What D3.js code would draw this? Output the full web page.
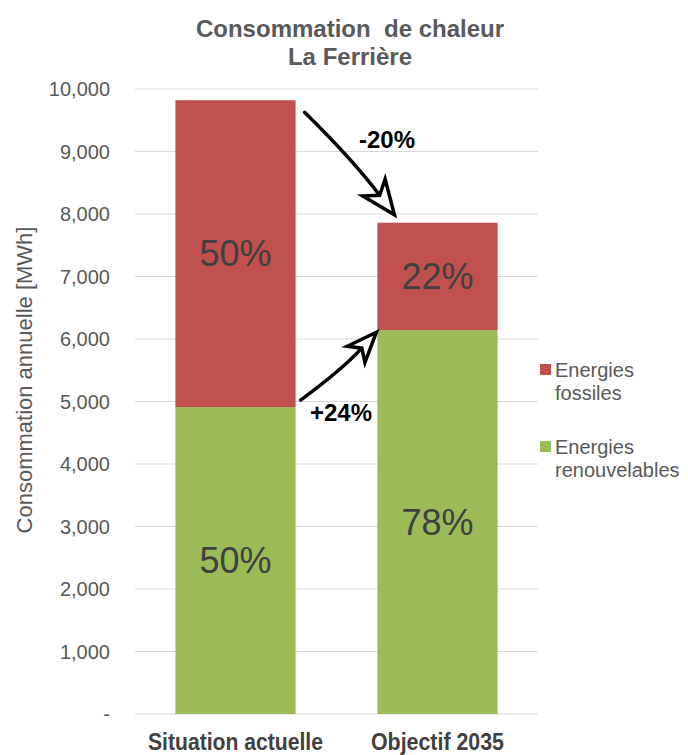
<!DOCTYPE html>
<html>
<head>
<meta charset="utf-8">
<script src="https://cdn.jsdelivr.net/npm/d3@7"></script>
<style>
  body { margin: 0; background: #fff; }
  text { font-family: "Liberation Sans", Arial, sans-serif; }
</style>
</head>
<body>
<div id="chart"></div>
<script>
// data
const categories = ["Situation actuelle", "Objectif 2035"]
const renouvelables = [4910, 6140]
const fossiles = [4910, 1720]
const pctRenouv = ["50%", "78%"]
const pctFoss = ["50%", "22%"]
const yTicks = [0, 1000, 2000, 3000, 4000, 5000, 6000, 7000, 8000, 9000, 10000]
const seriesNames = [["Energies", "fossiles"], ["Energies", "renouvelables"]]
const colors = ["#C0504D", "#9BBB59"]

const width = 688, height = 755
const margin = { top: 89, left: 135, right: 150, bottom: 41 }

const svg = d3.select("#chart").append("svg")
  .attr("width", width)
  .attr("height", height)

const x = d3.scaleBand()
  .domain(categories)
  .range([margin.left, width - margin.right])
  .paddingInner(0.405)
  .paddingOuter(0.2)

const y = d3.scaleLinear()
  .domain([0, 10000])
  .range([height - margin.bottom, margin.top])

// gridlines
svg.append("g").selectAll("line")
  .data(yTicks)
  .enter().append("line")
  .attr("x1", margin.left)
  .attr("x2", width - margin.right)
  .attr("y1", d => y(d))
  .attr("y2", d => y(d))
  .attr("stroke", "#d9d9d9")
  .attr("stroke-width", 1.2)

// y tick labels
svg.append("g").selectAll("text")
  .data(yTicks)
  .enter().append("text")
  .attr("x", 110)
  .attr("y", d => y(d))
  .attr("dy", "0.35em")
  .attr("text-anchor", "end")
  .attr("font-size", 20)
  .attr("fill", "#595959")
  .text(d => d === 0 ? "-" : d3.format(",")(d))

// y axis title
svg.append("text")
  .attr("transform", "translate(24,380) rotate(-90)")
  .attr("dy", "0.35em")
  .attr("text-anchor", "middle")
  .attr("font-size", 22)
  .attr("fill", "#595959")
  .text("Consommation annuelle [MWh]")

// bars
const bars = svg.append("g")
categories.forEach((c, i) => {
  bars.append("rect")
    .attr("x", x(c))
    .attr("width", x.bandwidth())
    .attr("y", y(renouvelables[i]))
    .attr("height", y(0) - y(renouvelables[i]))
    .attr("fill", colors[1])
  bars.append("rect")
    .attr("x", x(c))
    .attr("width", x.bandwidth())
    .attr("y", y(renouvelables[i] + fossiles[i]))
    .attr("height", y(renouvelables[i]) - y(renouvelables[i] + fossiles[i]))
    .attr("fill", colors[0])

  // percentage labels
  bars.append("text")
    .attr("x", x(c) + x.bandwidth() / 2)
    .attr("y", y(renouvelables[i] / 2))
    .attr("dy", "0.35em")
    .attr("text-anchor", "middle")
    .attr("font-size", 36)
    .attr("fill", "#404040")
    .text(pctRenouv[i])
  bars.append("text")
    .attr("x", x(c) + x.bandwidth() / 2)
    .attr("y", y(renouvelables[i] + fossiles[i] / 2))
    .attr("dy", "0.35em")
    .attr("text-anchor", "middle")
    .attr("font-size", 36)
    .attr("fill", "#404040")
    .text(pctFoss[i])
})

// x labels (narrow bold, squeezed to the reference width)
const labelWidths = [175, 133]
svg.append("g").selectAll("text")
  .data(categories)
  .enter().append("text")
  .attr("x", d => x(d) + x.bandwidth() / 2)
  .attr("y", 750)
  .attr("text-anchor", "middle")
  .attr("font-size", 23)
  .attr("font-weight", "bold")
  .attr("fill", "#404040")
  .attr("textLength", (d, i) => labelWidths[i])
  .attr("lengthAdjust", "spacingAndGlyphs")
  .text(d => d)

// title
svg.append("text")
  .attr("x", 350).attr("y", 37)
  .attr("text-anchor", "middle")
  .attr("font-size", 24).attr("font-weight", "bold")
  .attr("fill", "#595959")
  .attr("xml:space", "preserve")
  .text("Consommation  de chaleur")
svg.append("text")
  .attr("x", 350).attr("y", 65)
  .attr("text-anchor", "middle")
  .attr("font-size", 24).attr("font-weight", "bold")
  .attr("fill", "#595959")
  .text("La Ferrière")

// legend
const legend = svg.append("g")
seriesNames.forEach((lines, i) => {
  const ly = 370 + i * 77
  legend.append("rect")
    .attr("x", 540).attr("y", ly - 6)
    .attr("width", 11).attr("height", 11)
    .attr("fill", colors[i])
  lines.forEach((t, j) => {
    legend.append("text")
      .attr("x", 555).attr("y", ly + j * 23)
      .attr("dy", "0.35em")
      .attr("font-size", 20)
      .attr("fill", "#595959")
      .text(t)
  })
})

// arrows
function arrow(x0, y0, x1, y1, bend, headL, headW) {
  const mx = (x0 + x1) / 2, my = (y0 + y1) / 2
  const dx = x1 - x0, dy = y1 - y0
  const len = Math.sqrt(dx * dx + dy * dy)
  const cx = mx - dy / len * bend, cy = my + dx / len * bend
  const a = Math.atan2(y1 - cy, x1 - cx)
  const ang = a * 180 / Math.PI
  // shaft stops at back of head
  const ex = x1 - Math.cos(a) * headL * 0.72, ey = y1 - Math.sin(a) * headL * 0.72
  svg.append("path")
    .attr("d", "M" + x0 + "," + y0 + " Q" + cx + "," + cy + " " + ex + "," + ey)
    .attr("fill", "none")
    .attr("stroke", "#000")
    .attr("stroke-width", 3.5)
    .attr("stroke-linecap", "round")
  svg.append("path")
    .attr("d", "M0,0 L" + (-headL) + "," + (-headW / 2) + " L" + (-headL * 0.72) + ",0 L" + (-headL) + "," + (headW / 2) + " Z")
    .attr("transform", "translate(" + x1 + "," + y1 + ") rotate(" + ang + ")")
    .attr("fill", "#fff")
    .attr("stroke", "#000")
    .attr("stroke-width", 3.5)
    .attr("stroke-linejoin", "miter")
}

const b1 = x(categories[0]) + x.bandwidth()
const b2 = x(categories[1])
arrow(b1 + 9, y(renouvelables[0] + fossiles[0]) + 12, b2 + 17, y(renouvelables[1] + fossiles[1]) - 8, -5, 34, 28)
arrow(b1 + 5, y(renouvelables[0]) - 7, b2 - 1, y(renouvelables[1]) + 2, 5, 30, 24)

svg.append("text")
  .attr("x", 387).attr("y", 140)
  .attr("dy", "0.35em")
  .attr("text-anchor", "middle")
  .attr("font-size", 24).attr("font-weight", "bold")
  .attr("fill", "#000")
  .text("-20%")
svg.append("text")
  .attr("x", 341).attr("y", 413)
  .attr("dy", "0.35em")
  .attr("text-anchor", "middle")
  .attr("font-size", 24).attr("font-weight", "bold")
  .attr("fill", "#000")
  .text("+24%")
</script>
</body>
</html>
